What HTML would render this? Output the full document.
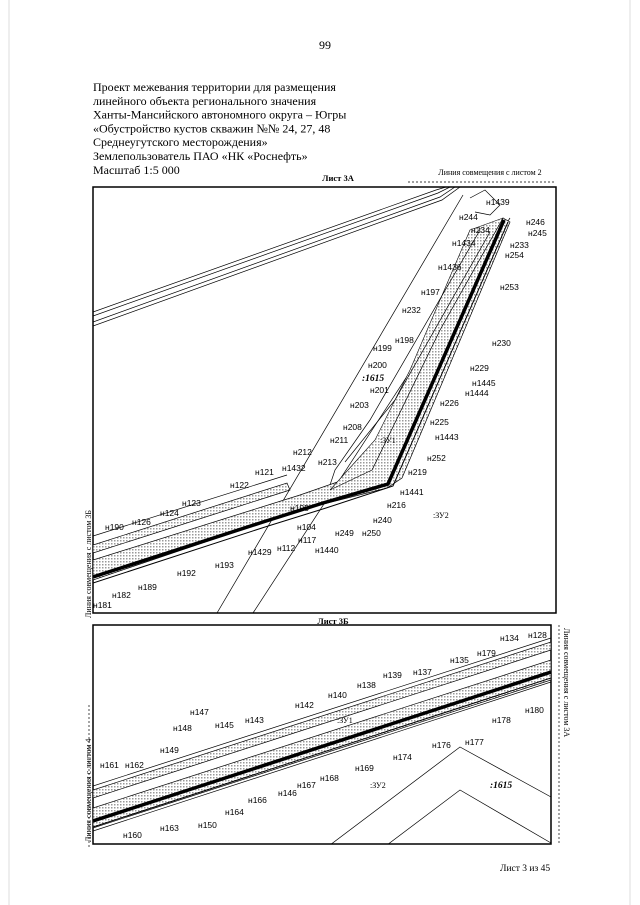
<!DOCTYPE html>
<html><head><meta charset="utf-8"><style>
html,body{margin:0;padding:0;background:#fff;}
svg{display:block;}
.h{font-family:"Liberation Serif",serif;font-size:12px;fill:#000;}
.l{font-family:"Liberation Sans",sans-serif;font-size:8.5px;fill:#000;}
.s{font-family:"Liberation Serif",serif;font-size:8px;fill:#000;}
.b{font-family:"Liberation Serif",serif;font-size:8.5px;font-weight:bold;fill:#000;}
.i{font-family:"Liberation Serif",serif;font-size:9.5px;font-weight:bold;font-style:italic;fill:#000;}
</style></head><body>
<svg width="640" height="905" viewBox="0 0 640 905" xmlns="http://www.w3.org/2000/svg">
<defs>
<pattern id="ht" width="3" height="3" patternUnits="userSpaceOnUse"><rect width="3" height="3" fill="#fff"/><rect width="1.5" height="1.5" fill="#999"/></pattern>
<clipPath id="c1"><rect x="93" y="187" width="463" height="426"/></clipPath>
<clipPath id="c2"><rect x="93" y="625" width="458" height="219"/></clipPath>
</defs>
<line x1="9" y1="0" x2="9" y2="905" stroke="#ddd" stroke-width="1"/>
<line x1="630" y1="0" x2="630" y2="905" stroke="#ddd" stroke-width="1"/>
<text x="325" y="49" class="h" text-anchor="middle">99</text>
<text x="93" y="91" class="h">Проект межевания территории для размещения</text>
<text x="93" y="104.8" class="h">линейного объекта регионального значения</text>
<text x="93" y="118.6" class="h">Ханты-Мансийского автономного округа – Югры</text>
<text x="93" y="132.4" class="h">«Обустройство кустов скважин №№ 24, 27, 48</text>
<text x="93" y="146.2" class="h">Среднеугутского месторождения»</text>
<text x="93" y="160" class="h">Землепользователь ПАО «НК «Роснефть»</text>
<text x="93" y="173.8" class="h">Масштаб 1:5 000</text>
<text x="338" y="181" class="b" text-anchor="middle">Лист 3А</text>
<text x="490" y="175" class="s" text-anchor="middle">Линия совмещения с листом 2</text>
<line x1="408" y1="182" x2="556" y2="182" stroke="#000" stroke-width="0.8" stroke-dasharray="2,2"/>
<!-- top map -->
<rect x="93" y="187" width="463" height="426" fill="none" stroke="#000" stroke-width="1.5"/>
<g clip-path="url(#c1)" fill="none" stroke="#000" stroke-width="0.7">
<polyline points="93,312 436,190 446,187"/>
<polyline points="93,316 438,193 450,187"/>
<polyline points="93,322 440,197 455,187"/>
<polyline points="93,326 442,200 460,187"/>
<line x1="463" y1="195" x2="217" y2="613"/>
<line x1="510" y1="218" x2="253" y2="613"/>
<polygon points="503,218 510,222 402,478 387,488 300,510 93,580 93,560 300,495 372,470 440,330" fill="url(#ht)" stroke="#000"/>
<polygon points="470,230 503,218 440,330 372,470 330,490 375,440 410,370" fill="url(#ht)" stroke="#000" stroke-width="0.6"/>
<polyline points="504,220 388,484 323,503 263,522 93,577" stroke-width="3.5"/>
<polyline points="508,222 393,486 326,508 265,527 93,583" stroke-width="1"/>
<polygon points="93,545 287,483 290,490 93,553" fill="url(#ht)"/>
<polyline points="93,536 287,475"/>
<polyline points="480,230 370,420 335,470 330,485"/>
<polyline points="490,232 395,400 345,462"/>
<polyline points="470,198 485,190 500,205 490,215 475,212"/>
</g>
<g class="l">
<text x="486" y="205">н1439</text><text x="459" y="220">н244</text><text x="526" y="225">н246</text><text x="528" y="236">н245</text>
<text x="471" y="233">н234</text><text x="510" y="248">н233</text><text x="452" y="246">н1434</text><text x="505" y="258">н254</text>
<text x="438" y="270">н1436</text><text x="500" y="290">н253</text><text x="421" y="295">н197</text><text x="402" y="313">н232</text>
<text x="492" y="346">н230</text><text x="395" y="343">н198</text><text x="373" y="351">н199</text><text x="368" y="368">н200</text>
<text x="470" y="371">н229</text><text x="472" y="386">н1445</text><text x="465" y="396">н1444</text><text x="370" y="393">н201</text>
<text x="440" y="406">н226</text><text x="350" y="408">н203</text><text x="430" y="425">н225</text><text x="343" y="430">н208</text>
<text x="435" y="440">н1443</text><text x="330" y="443">н211</text><text x="427" y="461">н252</text><text x="293" y="455">н212</text>
<text x="318" y="465">н213</text><text x="408" y="475">н219</text><text x="255" y="475">н121</text><text x="282" y="471">н1432</text>
<text x="400" y="495">н1441</text><text x="230" y="488">н122</text><text x="387" y="508">н216</text><text x="182" y="506">н123</text>
<text x="290" y="511">н195</text><text x="160" y="516">н124</text><text x="373" y="523">н240</text><text x="132" y="525">н126</text>
<text x="297" y="530">н104</text><text x="105" y="530">н190</text><text x="335" y="536">н249</text><text x="362" y="536">н250</text>
<text x="298" y="543">н117</text><text x="248" y="555">н1429</text><text x="277" y="551">н112</text><text x="315" y="553">н1440</text>
<text x="215" y="568">н193</text><text x="177" y="576">н192</text><text x="138" y="590">н189</text><text x="112" y="598">н182</text>
<text x="93" y="608">н181</text>
</g>
<text x="362" y="381" class="i">:1615</text>
<text x="380" y="443" class="s">:ЗУ1</text>
<text x="433" y="518" class="s">:ЗУ2</text>
<text transform="translate(91,618) rotate(-90)" class="s">Линия совмещения с листом 3Б</text>
<text x="333" y="624" class="b" text-anchor="middle">Лист 3Б</text>
<!-- bottom map -->
<rect x="93" y="625" width="458" height="219" fill="none" stroke="#000" stroke-width="1.5"/>
<g clip-path="url(#c2)" fill="none" stroke="#000" stroke-width="0.7">
<polygon points="93,790 551,642 551,650 93,798" fill="url(#ht)"/>
<line x1="93" y1="786" x2="551" y2="638"/>
<polygon points="93,808 551,660 551,680 93,828" fill="url(#ht)"/>
<line x1="93" y1="821" x2="551" y2="672" stroke-width="3.5"/>
<line x1="93" y1="827" x2="551" y2="678" stroke-width="1"/>
<line x1="93" y1="831" x2="551" y2="682"/>
<polyline points="330,845 460,747 551,797"/>
<polyline points="387,845 460,790 551,843"/>
</g>
<g class="l">
<text x="500" y="641">н134</text><text x="528" y="638">н128</text><text x="450" y="663">н135</text><text x="477" y="656">н179</text>
<text x="383" y="678">н139</text><text x="413" y="675">н137</text><text x="357" y="688">н138</text><text x="328" y="698">н140</text>
<text x="295" y="708">н142</text><text x="492" y="723">н178</text><text x="525" y="713">н180</text><text x="190" y="715">н147</text>
<text x="215" y="728">н145</text><text x="245" y="723">н143</text><text x="173" y="731">н148</text><text x="432" y="748">н176</text>
<text x="465" y="745">н177</text><text x="393" y="760">н174</text><text x="160" y="753">н149</text><text x="100" y="768">н161</text>
<text x="125" y="768">н162</text><text x="355" y="771">н169</text><text x="320" y="781">н168</text><text x="297" y="788">н167</text>
<text x="278" y="796">н146</text><text x="248" y="803">н166</text><text x="225" y="815">н164</text><text x="198" y="828">н150</text>
<text x="160" y="831">н163</text><text x="123" y="838">н160</text>
</g>
<text x="337" y="723" class="s">:ЗУ1</text>
<text x="370" y="788" class="s">:ЗУ2</text>
<text x="490" y="788" class="i">:1615</text>
<line x1="89" y1="705" x2="89" y2="848" stroke="#000" stroke-width="0.7" stroke-dasharray="2,2"/>
<text transform="translate(91,842) rotate(-90)" class="s">Линия совмещения с листом 4</text>
<line x1="559" y1="625" x2="559" y2="845" stroke="#000" stroke-width="0.7" stroke-dasharray="2,2"/>
<text transform="translate(564,628) rotate(90)" class="s">Линия совмещения с листом 3А</text>
<text x="500" y="871" class="s" style="font-size:9.5px">Лист 3 из 45</text>
</svg>
</body></html>
